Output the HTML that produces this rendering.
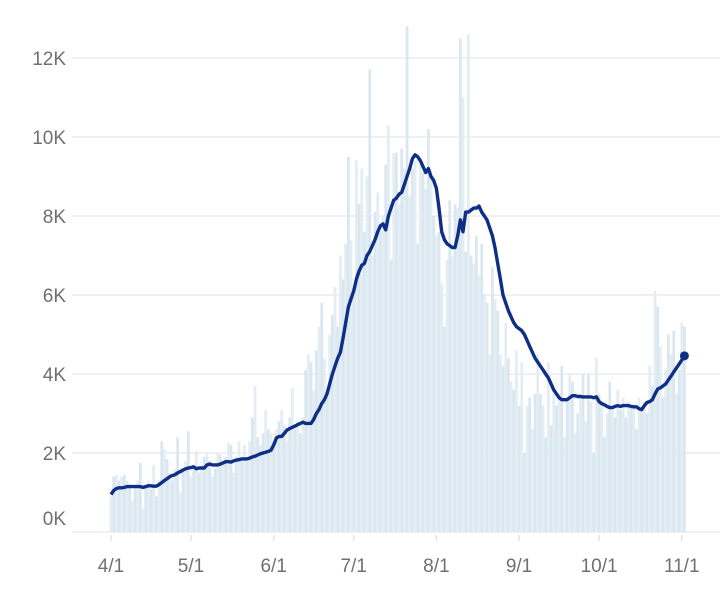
<!DOCTYPE html>
<html><head><meta charset="utf-8"><style>
html,body{margin:0;padding:0;background:#fff;}
svg text{font-family:"Liberation Sans",sans-serif;fill:#707070;font-size:19px;}
</style></head><body>
<svg id="chart" width="720" height="608" viewBox="0 0 720 608" xmlns="http://www.w3.org/2000/svg">
<g id="grid"></g>
<g id="bars"></g>
<g id="ylabels"></g>
<g id="xaxis"></g>
<path id="avgline" fill="none" stroke="#0f2f87" stroke-width="3.4" stroke-linejoin="round"/>
<circle id="enddot" r="4.5" fill="#0f2f87"/>
</svg>
<script>
const yTicks=[0,2,4,6,8,10,12];
const yTickLabels=["0K","2K","4K","6K","8K","10K","12K"];
const xTickDays=[0,30,61,91,122,153,183,214];
const xTickLabels=["4/1","5/1","6/1","7/1","8/1","9/1","10/1","11/1"];
const dailyCases=[
0.9,1.4,1.45,1.3,1.4,1.45,1.3,1.2,0.8,1.1,
1.3,1.75,0.6,1.2,1.3,1.1,1.7,0.9,1.3,2.3,
2.1,1.85,1.5,1.3,1.6,2.4,1.0,1.6,1.8,2.55,
1.4,1.7,2.05,1.5,1.6,1.9,2.0,1.8,1.4,1.6,
2.0,1.95,1.7,1.9,2.25,2.2,1.5,1.9,2.3,1.8,
2.2,1.8,2.3,2.9,3.7,2.4,2.2,2.5,3.1,2.6,
2.5,2.3,2.6,2.8,3.1,2.7,2.3,2.9,3.65,2.6,
2.8,2.5,2.9,4.1,4.5,4.3,3.6,4.6,5.2,5.8,
4.4,3.5,5.0,5.5,6.2,5.2,7.0,6.4,7.3,9.5,
7.4,6.0,9.4,8.3,9.2,7.6,9.0,11.7,7.0,8.1,
8.6,7.6,8.0,9.3,10.3,6.9,9.6,9.6,8.3,9.7,
9.2,12.8,8.5,9.2,9.4,7.3,9.3,9.1,8.7,10.2,
9.0,8.0,7.5,7.6,6.3,5.2,6.9,8.4,7.0,8.3,
8.2,12.5,11.0,7.1,12.6,7.0,6.8,7.5,6.5,7.3,
6.0,5.8,4.5,6.7,5.9,5.6,4.5,4.2,5.3,4.4,
3.8,3.6,4.6,3.2,4.3,2.0,3.2,3.4,2.6,3.5,
4.5,3.5,3.2,2.4,4.3,2.7,3.5,3.2,3.5,4.2,
2.4,3.4,4.0,3.8,2.5,3.0,3.5,4.0,2.8,4.0,
3.3,2.0,4.4,3.5,3.3,2.4,3.0,3.8,3.1,2.9,
3.6,3.1,3.4,2.9,3.3,3.2,3.2,2.6,3.4,3.1,
3.3,3.0,4.2,3.7,6.1,5.7,4.7,3.4,4.1,5.0,
4.5,5.1,3.5,4.1,5.3,5.2];
const sevenDayAvg=[
0.95,1.05,1.1,1.12,1.12,1.13,1.15,1.15,1.15,1.15,
1.15,1.15,1.13,1.15,1.17,1.17,1.16,1.16,1.2,1.25,
1.3,1.35,1.4,1.43,1.45,1.5,1.53,1.57,1.6,1.62,
1.63,1.65,1.6,1.62,1.62,1.62,1.7,1.72,1.7,1.7,
1.7,1.72,1.75,1.78,1.78,1.77,1.8,1.82,1.83,1.85,
1.85,1.85,1.87,1.9,1.92,1.95,1.98,2.0,2.02,2.04,
2.07,2.2,2.38,2.42,2.42,2.5,2.58,2.62,2.65,2.68,
2.72,2.75,2.78,2.75,2.75,2.75,2.85,3.0,3.1,3.25,
3.35,3.5,3.75,4.0,4.2,4.4,4.55,4.9,5.3,5.7,
5.9,6.1,6.4,6.6,6.75,6.8,7.0,7.1,7.25,7.4,
7.6,7.75,7.8,7.65,8.0,8.2,8.4,8.45,8.55,8.6,
8.8,9.0,9.2,9.45,9.55,9.5,9.4,9.25,9.1,9.2,
9.0,8.9,8.7,8.2,7.6,7.4,7.3,7.25,7.2,7.2,
7.5,7.9,7.6,8.1,8.1,8.15,8.2,8.2,8.25,8.1,
8.0,7.9,7.7,7.5,7.2,6.8,6.4,6.0,5.8,5.6,
5.45,5.3,5.2,5.15,5.1,5.0,4.85,4.7,4.55,4.4,
4.3,4.2,4.1,4.0,3.9,3.75,3.6,3.5,3.4,3.35,
3.35,3.35,3.4,3.45,3.45,3.43,3.43,3.42,3.42,3.42,
3.42,3.4,3.42,3.3,3.25,3.22,3.18,3.15,3.15,3.18,
3.2,3.18,3.2,3.2,3.2,3.18,3.17,3.17,3.12,3.1,
3.2,3.28,3.3,3.35,3.5,3.62,3.65,3.7,3.75,3.85,
3.95,4.05,4.15,4.25,4.35,4.46];

const NS="http://www.w3.org/2000/svg";
const x=d=>111+d*2.667;
const y=v=>532-v*39.5;
function mk(tag,parent,attrs){const e=document.createElementNS(NS,tag);for(const k in attrs)e.setAttribute(k,attrs[k]);document.getElementById(parent).appendChild(e);return e;}

yTicks.forEach((t,i)=>{
  const g=mk('line','grid',{x1:72,x2:720,y1:y(t),y2:y(t),stroke:'#ececec','stroke-width':1.5});
  
  
  const tx=mk('text','ylabels',{x:66,y:(t===0?y(t)-14:y(t))+7,'text-anchor':'end'});
  tx.textContent=yTickLabels[i];
  
  
});
dailyCases.forEach((v,d)=>{
  const r=mk('rect','bars',{x:x(d)-1.35,y:y(v),width:2.75,height:532-y(v),fill:(d%2?'#dbe7f0':'#e3edf4')});
  
  
});
xTickDays.forEach((d,i)=>{
  const tk=mk('line','xaxis',{x1:x(d),x2:x(d),y1:535,y2:541,stroke:'#e2e2e2','stroke-width':1.5});
  
  
  const tx=mk('text','xaxis',{x:x(d),y:572,'text-anchor':'middle'});
  tx.textContent=xTickLabels[i];
  
  
});
document.getElementById('avgline').setAttribute('d',sevenDayAvg.map((v,d)=>(d?'L':'M')+x(d).toFixed(1)+','+y(v).toFixed(1)).join(''));
const last=sevenDayAvg.length-1;
const dot=document.getElementById('enddot');
dot.setAttribute('cx',x(last));dot.setAttribute('cy',y(sevenDayAvg[last]));
</script>
</body></html>
